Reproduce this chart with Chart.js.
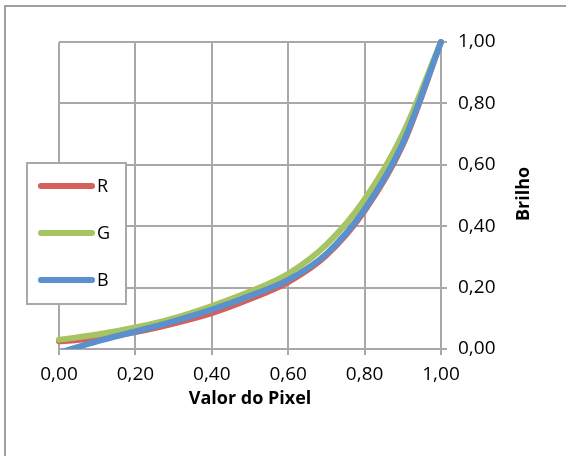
<!DOCTYPE html>
<html>
<head>
<meta charset="utf-8">
<script src="https://cdn.jsdelivr.net/npm/chart.js@4.4.0/dist/chart.umd.min.js"></script>
<style>
body { margin: 0; background: #fff; }
canvas { display: block; }
</style>
</head>
<body>
<canvas id="brilhoChart" width="566" height="456"></canvas>
<script>
// valores
var pixelValues = [0, 0.1, 0.2, 0.3, 0.4, 0.5, 0.6, 0.7, 0.8, 0.9, 1.0];
var brilhoR = [0.025, 0.035, 0.055, 0.083, 0.117, 0.163, 0.218, 0.305, 0.45, 0.665, 1.0];
var brilhoG = [0.03, 0.047, 0.07, 0.1, 0.14, 0.187, 0.245, 0.34, 0.487, 0.7, 1.0];
var brilhoB = [-0.012, 0.025, 0.057, 0.09, 0.128, 0.173, 0.225, 0.31, 0.455, 0.67, 1.0];
var seriesNames = ["R", "G", "B"];
var seriesColors = ["#D5605B", "#A6C461", "#5B90CE"];
var xTitle = "Valor do Pixel";
var yTitle = "Brilho";

var gridColor = "#a8a8a8";
var fontName = "'Open Sans', sans-serif";

function toPoints(values) {
    return pixelValues.map((x, index) => ({ x: x, y: values[index] }));
}

function formatTick(value) {
    return Number(value).toFixed(2).replace(".", ",");
}

function makeDataset(i, values, order) {
    return {
        label: seriesNames[i],
        data: toPoints(values),
        borderColor: seriesColors[i],
        backgroundColor: seriesColors[i],
        borderWidth: 6,
        pointRadius: 0,
        cubicInterpolationMode: "monotone",
        borderCapStyle: "round",
        fill: false,
        order: order,
        clip: { left: 5, top: 5, right: 5, bottom: 0 }
    };
}

var outerBorder = {
    id: "outerBorder",
    beforeDraw: function(chart) {
        var c = chart.ctx;
        c.save();
        c.strokeStyle = "#a0a0a0";
        c.lineWidth = 2;
        c.beginPath();
        c.moveTo(5, 456);
        c.lineTo(5, 6);
        c.lineTo(566, 6);
        c.stroke();
        c.restore();
    }
};

var sideTitle = {
    id: "sideTitle",
    afterDraw: function(chart) {
        var c = chart.ctx;
        c.save();
        c.translate(524, 194);
        c.rotate(-Math.PI / 2);
        c.font = "bold 18px " + fontName;
        c.fillStyle = "#000";
        c.textAlign = "center";
        c.textBaseline = "middle";
        c.fillText(yTitle, 0, 0);
        c.restore();
    }
};

var boxLegend = {
    id: "boxLegend",
    afterDatasetsDraw: function(chart) {
        var c = chart.ctx;
        var sets = chart.data.datasets;
        c.save();
        c.fillStyle = "#fff";
        c.fillRect(27, 163, 99, 141);
        c.strokeStyle = "#a8a8a8";
        c.lineWidth = 2;
        c.strokeRect(27, 163, 99, 141);
        c.font = "18px " + fontName;
        c.textBaseline = "middle";
        c.lineCap = "round";
        for (var i = 0; i < sets.length; i++) {
            var y = 186 + i * 47;
            c.strokeStyle = sets[i].borderColor;
            c.lineWidth = 6;
            c.beginPath();
            c.moveTo(41, y);
            c.lineTo(92, y);
            c.stroke();
            c.fillStyle = "#000";
            c.fillText(sets[i].label, 97, y + 1);
        }
        c.restore();
    }
};

var ctx = document.getElementById("brilhoChart").getContext("2d");
var brilhoChart = new Chart(ctx, {
    type: "line",
    data: {
        datasets: [
            makeDataset(0, brilhoR, 3),
            makeDataset(1, brilhoG, 2),
            makeDataset(2, brilhoB, 1)
        ]
    },
    options: {
        responsive: false,
        animation: false,
        layout: { padding: { left: 59, top: 42, right: 0, bottom: 0 } },
        plugins: {
            legend: { display: false },
            tooltip: { enabled: false }
        },
        scales: {
            x: {
                type: "linear",
                position: "bottom",
                min: 0,
                max: 1,
                ticks: {
                    stepSize: 0.2,
                    padding: 8,
                    color: "#000",
                    font: { family: fontName, size: 19 },
                    callback: formatTick
                },
                grid: { color: gridColor, lineWidth: 2, tickLength: 6 },
                border: { color: gridColor, width: 2 },
                title: {
                    display: true,
                    text: xTitle,
                    color: "#000",
                    font: { family: fontName, size: 18, weight: "bold" },
                    padding: { top: 0, bottom: 46 }
                },
                afterFit: function(scale) { scale.height = 107; }
            },
            y: {
                type: "linear",
                position: "right",
                min: 0,
                max: 1,
                ticks: {
                    stepSize: 0.2,
                    padding: 11,
                    color: "#000",
                    font: { family: fontName, size: 19 },
                    callback: formatTick
                },
                grid: { color: gridColor, lineWidth: 2, tickLength: 6 },
                border: { color: gridColor, width: 2 },
                afterFit: function(scale) { scale.width = 125; }
            }
        }
    },
    plugins: [outerBorder, sideTitle, boxLegend]
});
</script>
</body>
</html>
